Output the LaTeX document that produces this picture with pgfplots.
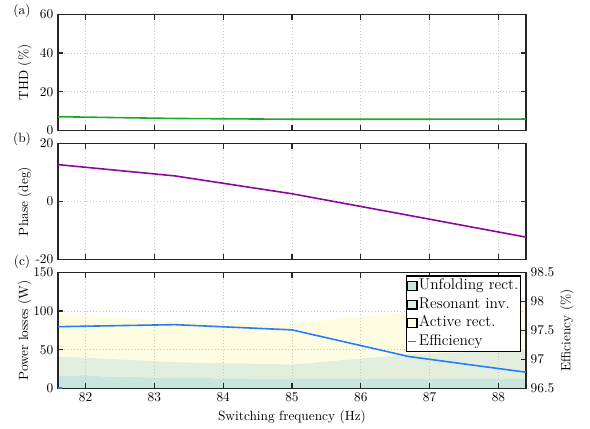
\documentclass[border=0pt]{standalone}
\usepackage{pgfplots}
\pgfplotsset{compat=1.18}

\definecolor{thdgreen}{RGB}{26,170,40}
\definecolor{phasepurple}{RGB}{140,10,155}
\definecolor{effblue}{RGB}{40,125,255}
\definecolor{unfcol}{RGB}{201,229,223}
\definecolor{rescol}{RGB}{227,239,222}
\definecolor{actcol}{RGB}{254,253,225}

\pgfplotsset{
  panel/.style={
    width=351pt, height=87pt, scale only axis,
    xmin=81.6, xmax=88.4,
    xtick={82,83,84,85,86,87,88},
    tick align=inside, major tick length=4pt,
    axis line style={black!85, line width=1pt},
    every tick/.style={black!85, line width=1pt},
    grid=major,
    major grid style={gray!45, dotted, line width=0.6pt},
    every axis y label/.style={at={(axis description cs:-0.0712,0.5)},rotate=90,anchor=center},
  },
  boxlegend/.style={legend image code/.code={
    \path[fill=#1] (0pt,-3.3pt) rectangle (7pt,3.3pt);
    \draw[draw=black, line width=0.9pt] (0pt,-3.3pt) rectangle (7pt,3.3pt);}},
}

\begin{document}
\begin{tikzpicture}
% keep the frame of the reference
\path (-43.5pt,10.5pt) rectangle (399pt,-308.25pt);

% (a) THD
\begin{axis}[panel, at={(0pt,0pt)}, anchor=north west,
  ymin=0, ymax=60, ytick={0,20,40,60}, xticklabels={},
  ylabel={THD (\%)}]
\addplot[thdgreen, line width=1.2pt] coordinates {
  (81.6,7.1) (83.3,6.2) (85.0,5.8) (86.7,5.8) (88.4,5.9)
};
\end{axis}

% (b) Phase
\begin{axis}[panel, at={(0pt,-96.75pt)}, anchor=north west,
  ymin=-20, ymax=20, ytick={-20,0,20}, yticklabels={-20,0,20}, xticklabels={},
  ylabel={Phase (deg)}]
\addplot[phasepurple, line width=1.2pt] coordinates {
  (81.6,12.7) (83.3,8.8) (85.0,2.65) (86.7,-4.8) (88.4,-12.3)
};
\end{axis}

% (c) Power losses
\begin{axis}[panel, at={(0pt,-193.5pt)}, anchor=north west,
  ymin=0, ymax=150, ytick={0,50,100,150}, ytick pos=left,
  axis on top, stack plots=y,
  ylabel={Power losses (W)}, xlabel={Switching frequency (Hz)}]
\addplot[fill=unfcol, draw=none] coordinates {
  (81.6,17) (83.3,13.5) (85.0,12.5) (86.7,12.3) (88.4,12.3)
} \closedcycle;
\addplot[fill=rescol, draw=none] coordinates {
  (81.6,24.5) (83.3,20.5) (85.0,18.5) (86.7,31.7) (88.4,37.7)
} \closedcycle;
\addplot[fill=actcol, draw=none] coordinates {
  (81.6,54.5) (83.3,53) (85.0,52.5) (86.7,55) (88.4,62)
} \closedcycle;
\end{axis}

\begin{axis}[panel, at={(0pt,-193.5pt)}, anchor=north west,
  grid=none, axis x line=none, axis y line*=right,
  ymin=96.5, ymax=98.5, ytick={96.5,97,97.5,98,98.5},
  every axis y label/.style={at={(axis description cs:1.0875,0.5)},rotate=90,anchor=center},
  ylabel={Efficiency (\%)},
  legend cell align=left,
  legend style={at={(rel axis cs:0.989,0.974)}, anchor=north east,
    draw=black, line width=0.9pt, fill=white, inner sep=0.5pt,
    row sep=0pt, font=\fontsize{11.6}{13.9}\selectfont,
    nodes={inner sep=1pt, text height=8.7pt, text depth=3.2pt}}]
\addlegendimage{boxlegend=unfcol}
\addlegendentry{Unfolding rect.}
\addlegendimage{boxlegend=rescol}
\addlegendentry{Resonant inv.}
\addlegendimage{boxlegend=actcol}
\addlegendentry{Active rect.}
\addplot[effblue, line width=1.2pt,
  legend image code/.code={\draw[draw=effblue,line width=1.2pt] (0.5pt,0pt) -- (6.5pt,0pt);}] coordinates {
  (81.6,97.565) (83.3,97.6) (85.0,97.51) (86.7,97.05) (88.4,96.78)
};
\addlegendentry{Efficiency}
\addplot[effblue, line width=1.5pt, forget plot] coordinates {(81.6,96.5) (81.66,96.5)};
\end{axis}

% panel letters
\node at (-27pt,2.5pt) {(a)};
\node at (-27pt,-93.75pt) {(b)};
\node at (-27pt,-186pt) {(c)};
\end{tikzpicture}
\end{document}
